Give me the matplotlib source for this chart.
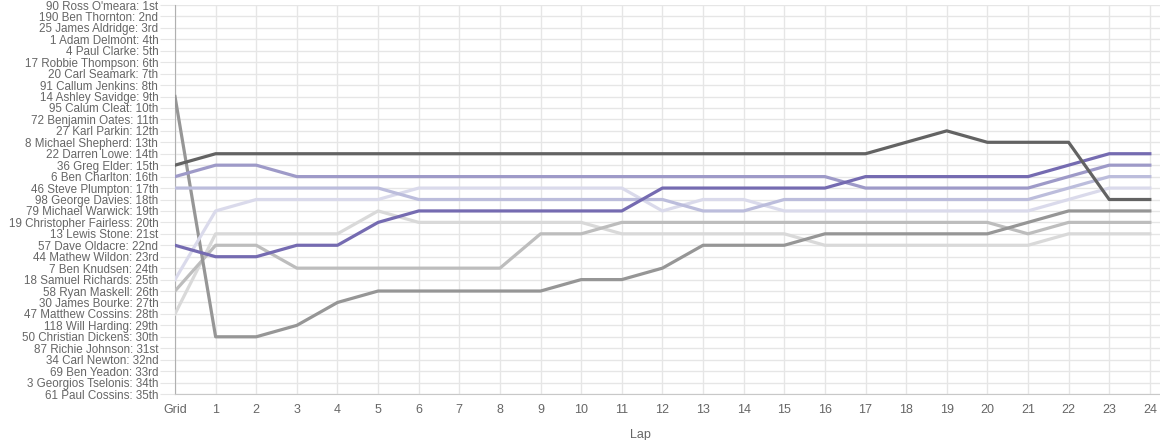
import matplotlib
matplotlib.use("Agg")
import matplotlib.pyplot as plt

plt.rcParams["font.family"] = ["Liberation Sans", "DejaVu Sans"]

drivers = [
    "90 Ross O'meara", "190 Ben Thornton", "25 James Aldridge", "1 Adam Delmont",
    "4 Paul Clarke", "17 Robbie Thompson", "20 Carl Seamark", "91 Callum Jenkins",
    "14 Ashley Savidge", "95 Calum Cleat", "72 Benjamin Oates", "27 Karl Parkin",
    "8 Michael Shepherd", "22 Darren Lowe", "36 Greg Elder", "6 Ben Charlton",
    "46 Steve Plumpton", "98 George Davies", "79 Michael Warwick",
    "19 Christopher Fairless", "13 Lewis Stone", "57 Dave Oldacre",
    "44 Mathew Wildon", "7 Ben Knudsen", "18 Samuel Richards", "58 Ryan Maskell",
    "30 James Bourke", "47 Matthew Cossins", "118 Will Harding",
    "50 Christian Dickens", "87 Richie Johnson", "34 Carl Newton",
    "69 Ben Yeadon", "3 Georgios Tselonis", "61 Paul Cossins",
]
suffixes = ["1st", "2nd", "3rd"] + [f"{i}th" for i in range(4, 21)] + \
    ["21st", "22nd", "23rd"] + [f"{i}th" for i in range(24, 31)] + \
    ["31st", "32nd", "33rd", "34th", "35th"]
laps = ["Grid"] + [str(i) for i in range(1, 25)]

# position per lap (Grid, 1..24)
dark_grey = [15, 14, 14, 14, 14, 14, 14, 14, 14, 14, 14, 14, 14, 14, 14, 14, 14, 14, 13, 12, 13, 13, 13, 18, 18]
mid_grey = [9, 30, 30, 29, 27, 26, 26, 26, 26, 26, 25, 25, 24, 22, 22, 22, 21, 21, 21, 21, 21, 20, 19, 19, 19]
light_grey = [26, 22, 22, 24, 24, 24, 24, 24, 24, 21, 21, 20, 20, 20, 20, 20, 20, 20, 20, 20, 20, 21, 20, 20, 20]
pale_grey = [28, 21, 21, 21, 21, 19, 20, 20, 20, 20, 20, 21, 21, 21, 21, 21, 22, 22, 22, 22, 22, 22, 21, 21, 21]
dark_purple = [22, 23, 23, 22, 22, 20, 19, 19, 19, 19, 19, 19, 17, 17, 17, 17, 17, 16, 16, 16, 16, 16, 15, 14, 14]
mid_purple = [16, 15, 15, 16, 16, 16, 16, 16, 16, 16, 16, 16, 16, 16, 16, 16, 16, 17, 17, 17, 17, 17, 16, 15, 15]
light_purple = [17, 17, 17, 17, 17, 17, 18, 18, 18, 18, 18, 18, 18, 19, 19, 18, 18, 18, 18, 18, 18, 18, 17, 16, 16]
pale_purple = [25, 19, 18, 18, 18, 18, 17, 17, 17, 17, 17, 17, 19, 18, 18, 19, 19, 19, 19, 19, 19, 19, 18, 17, 17]

series = [
    (pale_grey, "#d9d9d9"),
    (light_grey, "#bdbdbd"),
    (mid_grey, "#969696"),
    (pale_purple, "#dadaeb"),
    (light_purple, "#bcbddc"),
    (mid_purple, "#9e9ac8"),
    (dark_purple, "#756bb1"),
    (dark_grey, "#636363"),
]

fig = plt.figure(figsize=(11.6, 4.4), dpi=100)
ax = fig.add_axes([175 / 1160, 46 / 440, 985 / 1160, 389 / 440])

x = list(range(len(laps)))
for vals, color in series:
    ax.plot(x, vals, color=color, lw=2.3, solid_joinstyle="round", zorder=3)

ax.set_xlim(0, 24.25)
ax.set_ylim(35, 1)
ax.set_xticks(x)
ax.set_xticklabels(laps)
ax.set_yticks(range(1, 36))
ax.set_yticklabels([f"{d}: {s}" for d, s in zip(drivers, suffixes)])

ax.grid(True, color="#e6e6e6", lw=1)
ax.set_axisbelow(True)
ax.tick_params(axis="y", length=11, color="#e6e6e6", pad=1, labelsize=8.4, labelcolor="#666666")
ax.tick_params(axis="x", length=0, pad=7, labelsize=9, labelcolor="#666666")
for side in ["top", "right"]:
    ax.spines[side].set_visible(False)
ax.spines["left"].set_color("#b0b0b0")
ax.spines["bottom"].set_color("#c8c8c8")

# the Lap title sits left of centre in the original
fig.text(640 / 1160, 1 - 435 / 440, "Lap", ha="center", va="center", fontsize=9, color="#666666")

fig.savefig("out.png", dpi=100)
